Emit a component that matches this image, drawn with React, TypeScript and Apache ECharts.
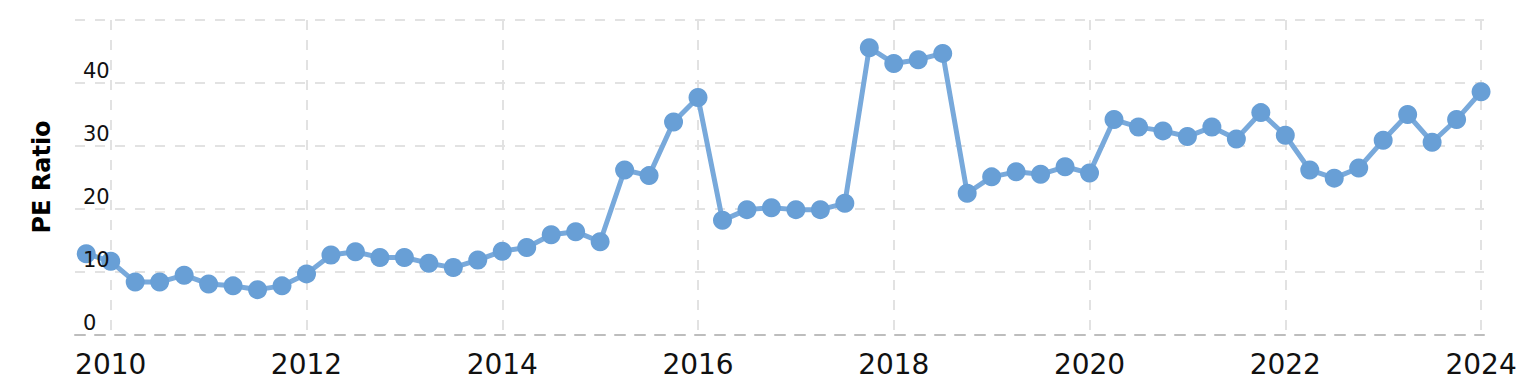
import React, { useEffect, useRef } from "react";
import * as echarts from "echarts";

// Quarter-end dates of each observation
const dates: string[] = [
  "2009-09-30", "2009-12-31",
  "2010-03-31", "2010-06-30", "2010-09-30", "2010-12-31",
  "2011-03-31", "2011-06-30", "2011-09-30", "2011-12-31",
  "2012-03-31", "2012-06-30", "2012-09-30", "2012-12-31",
  "2013-03-31", "2013-06-30", "2013-09-30", "2013-12-31",
  "2014-03-31", "2014-06-30", "2014-09-30", "2014-12-31",
  "2015-03-31", "2015-06-30", "2015-09-30", "2015-12-31",
  "2016-03-31", "2016-06-30", "2016-09-30", "2016-12-31",
  "2017-03-31", "2017-06-30", "2017-09-30", "2017-12-31",
  "2018-03-31", "2018-06-30", "2018-09-30", "2018-12-31",
  "2019-03-31", "2019-06-30", "2019-09-30", "2019-12-31",
  "2020-03-31", "2020-06-30", "2020-09-30", "2020-12-31",
  "2021-03-31", "2021-06-30", "2021-09-30", "2021-12-31",
  "2022-03-31", "2022-06-30", "2022-09-30", "2022-12-31",
  "2023-03-31", "2023-06-30", "2023-09-30", "2023-12-31",
];

// PE ratio values
const peRatio: number[] = [
  12.9, 11.7,
  8.4, 8.4, 9.5, 8.1,
  7.8, 7.2, 7.8, 9.7,
  12.7, 13.2, 12.3, 12.3,
  11.4, 10.7, 11.9, 13.3,
  13.9, 15.9, 16.4, 14.8,
  26.2, 25.3, 33.8, 37.7,
  18.2, 19.9, 20.2, 19.9,
  19.9, 20.9, 45.6, 43.1,
  43.7, 44.7, 22.5, 25.1,
  25.9, 25.5, 26.7, 25.7,
  34.2, 33.0, 32.4, 31.5,
  33.0, 31.1, 35.3, 31.7,
  26.2, 24.9, 26.5, 30.9,
  35.0, 30.6, 34.2, 38.6,
];

const yTicks: number[] = [0, 10, 20, 30, 40, 50];
const xLabelYears: number[] = [2010, 2012, 2014, 2016, 2018, 2020, 2022, 2024];
const yAxisTitle = "PE Ratio";

function toDecimalYear(d: string): number {
  const [y, m] = d.split("-").map(Number);
  return y + m / 12;
}

export default function App() {
  const ref = useRef<HTMLDivElement>(null);

  useEffect(() => {
    if (!ref.current) return;
    const chart = echarts.init(ref.current, undefined, { renderer: "svg" });
    const seriesData = dates.map((d, i) => [toDecimalYear(d), peRatio[i]]);
    const yMin = yTicks[0];
    const yMax = yTicks[yTicks.length - 1];

    chart.setOption({
      animation: false,
      backgroundColor: "#ffffff",
      grid: { left: 75, right: 54, top: 20, bottom: 55, containLabel: false },
      xAxis: {
        type: "value",
        min: 2009.635,
        max: 2024.03,
        splitNumber: 7,
        axisLine: {
          show: true,
          lineStyle: { color: "#bdbdbd", width: 2, type: [10, 10] },
        },
        axisTick: { show: false },
        axisLabel: {
          color: "#111111",
          fontSize: 28,
          fontFamily: "DejaVu Sans",
          margin: 15,
          formatter: (v: number) => {
            const r = Math.round(v);
            return Math.abs(v - r) < 1e-6 && xLabelYears.includes(r) ? String(r) : "";
          },
        },
        splitLine: {
          show: true,
          showMinLine: false,
          showMaxLine: false,
          lineStyle: { color: "#e2e2e2", width: 2, type: [10, 10] },
        },
      },
      yAxis: [
        {
          type: "value",
          min: yMin,
          max: yMax,
          interval: 10,
          axisLine: { show: false },
          axisTick: { show: false },
          axisLabel: { show: false },
          splitLine: {
            show: true,
            lineStyle: { color: "#e2e2e2", width: 2, type: [10, 10] },
          },
        },
        {
          type: "value",
          position: "left",
          min: yMin,
          max: yMax,
          interval: 10,
          z: 10,
          axisLine: { show: false },
          axisTick: { show: false },
          splitLine: { show: false },
          axisLabel: {
            inside: true,
            margin: 8,
            align: "left",
            verticalAlign: "bottom",
            padding: [0, 0, 2, 0],
            color: "#111111",
            fontSize: 21,
            fontFamily: "DejaVu Sans",
            formatter: (v: number) => (v === yMax ? "" : String(v)),
          },
        },
      ],
      graphic: [
        {
          type: "text",
          x: 42,
          y: 177,
          rotation: Math.PI / 2,
          style: {
            text: yAxisTitle,
            fontSize: 24,
            fontWeight: "bold",
            fontFamily: "DejaVu Sans",
            fill: "#000000",
            textAlign: "center",
            textVerticalAlign: "middle",
          },
        },
      ],
      series: [
        {
          type: "line",
          yAxisIndex: 0,
          data: seriesData,
          symbol: "circle",
          symbolSize: 19,
          showAllSymbol: true,
          lineStyle: { color: "#78a9db", width: 5 },
          itemStyle: { color: "#689fd6" },
          emphasis: { disabled: true },
        },
      ],
    });

    return () => chart.dispose();
  }, []);

  return (
    <div
      ref={ref}
      style={{ position: "fixed", left: 0, top: 0, width: 1538, height: 390 }}
    />
  );
}
